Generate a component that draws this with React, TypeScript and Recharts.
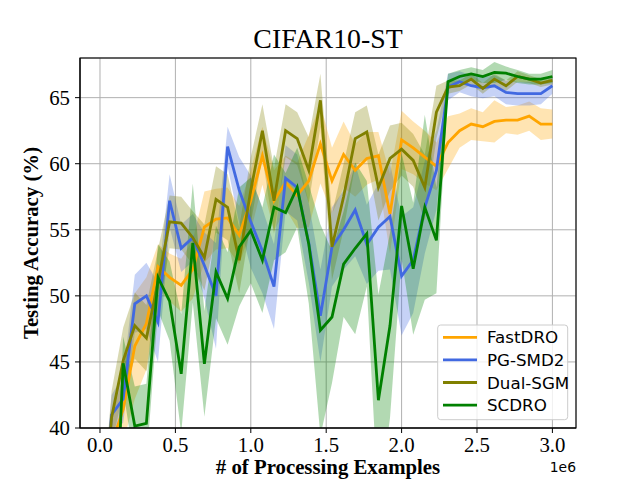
import React from 'react';
import { ComposedChart, Line, Area, XAxis, YAxis, CartesianGrid } from 'recharts';

// Processed examples (x positions of the evaluation points)
const xValues = [
  0, 76923, 153846, 230769, 307692, 384615, 461538, 538462, 615385, 692308,
  769231, 846154, 923077, 1000000, 1076923, 1153846, 1230769, 1307692, 1384615, 1461538,
  1538462, 1615385, 1692308, 1769231, 1846154, 1923077, 2000000, 2076923, 2153846, 2230769,
  2307692, 2384615, 2461538, 2538462, 2615385, 2692308, 2769231, 2846154, 2923077, 3000000,
];

const fastMean = [
  30, 38.8, 41.4, 46.2, 47.9, 52.2, 51.4, 50.8, 52.0, 55.2,
  55.8, 55.9, 54.6, 57.2, 60.6, 57.2, 58.6, 57.6, 58.7, 61.5,
  58.7, 60.7, 59.5, 60.4, 60.6, 56.2, 61.8, 61.2, 60.5, 59.8,
  61.6, 62.5, 63.0, 62.8, 63.2, 63.3, 63.3, 63.6, 63.0, 63.0,
];
const fastStd = [
  2, 2, 2.5, 4, 3.5, 1.7, 1.8, 2, 2.2, 2.7,
  2.3, 2.3, 2.2, 2.3, 2.2, 2.3, 2.0, 2.5, 3.5, 3.0,
  2.5, 2.5, 2.0, 2.0, 1.8, 3.0, 2.2, 2.0, 2.0, 1.8,
  2.0, 1.3, 1.2, 1.1, 1.6, 1.0, 1.1, 1.1, 1.2, 1.1,
];

const pgMean = [
  30, 41.0, 42.2, 49.4, 50.0, 48.0, 57.2, 53.6, 54.4, 52.3,
  50.0, 61.3, 58.0, 55.6, 53.4, 50.7, 58.9, 58.2, 54.0, 48.5,
  53.7, 55.0, 56.5, 53.9, 55.2, 56.0, 51.5, 52.7, 56.7, 59.5,
  65.8, 66.2, 65.9, 65.75, 65.9, 65.4, 65.3, 65.3, 65.3, 65.9,
];
const pgStd = [
  2, 1.5, 1.8, 2.2, 2.5, 3, 2, 1.8, 1.8, 2.5,
  4, 1.5, 2.5, 3.5, 3.2, 3.2, 2.5, 2.5, 3, 3.5,
  3, 3, 3.5, 3, 3.3, 4, 4.5, 4, 3.5, 3,
  1, 0.8, 0.8, 0.8, 0.8, 0.9, 0.9, 0.9, 0.8, 0.6,
];

const dualMean = [
  30, 40.8, 45.1, 47.75, 46.8, 51.0, 55.6, 55.5, 54.4, 52.9,
  57.3, 56.7, 52.7, 58.0, 62.5, 57.2, 62.5, 61.9, 59.5, 64.8,
  53.7, 57.5, 61.9, 62.4, 58.2, 60.4, 61.1, 60.25, 58.2, 63.9,
  65.8, 65.9, 66.4, 65.7, 66.4, 65.9, 66.6, 66.4, 66.1, 66.3,
];
const dualStd = [
  2, 2, 2.5, 2.5, 2.5, 2.5, 2, 2, 2, 2.5,
  2.5, 2.5, 2.5, 2.5, 2, 2.5, 2, 2, 2.5, 2,
  2.5, 2.5, 2, 2, 2.5, 2.5, 2, 2, 2.5, 2,
  0.5, 0.4, 0.4, 0.4, 0.4, 0.4, 0.4, 0.3, 0.3, 0.3,
];

const scdroMean = [
  15, 25, 44.9, 40.15, 40.35, 51.4, 49.6, 44.1, 54.0, 44.85,
  51.8, 49.8, 53.7, 54.95, 52.7, 56.7, 56.3, 58.2, 53.9, 47.4,
  48.4, 52.4, 53.6, 54.7, 42.1, 47.75, 56.8, 52.05, 56.7, 54.2,
  66.2, 66.6, 66.8, 66.6, 66.9, 66.85, 66.6, 66.4, 66.4, 66.6,
];
const scdroStd = [
  2, 3, 2, 3, 3, 2.5, 3, 4.5, 4.5, 4,
  3.5, 3.5, 4.5, 4, 4, 4, 3, 3, 4.5, 8,
  5, 4, 6.5, 4, 8, 7, 4, 5, 7, 4,
  0.6, 0.5, 0.5, 0.5, 0.8, 0.5, 0.5, 0.4, 0.4, 0.5,
];

const xTicks = [0, 500000, 1000000, 1500000, 2000000, 2500000, 3000000];
const yTicks = [40, 45, 50, 55, 60, 65];
const legendNames = ['FastDRO', 'PG-SMD2', 'Dual-SGM', 'SCDRO'];
const colors = ['#ffa500', '#4169e1', '#808000', '#008000'];

const data = xValues.map((x, i) => ({
  x,
  fast: fastMean[i],
  fastBand: [fastMean[i] - fastStd[i], fastMean[i] + fastStd[i]],
  pg: pgMean[i],
  pgBand: [pgMean[i] - pgStd[i], pgMean[i] + pgStd[i]],
  dual: dualMean[i],
  dualBand: [dualMean[i] - dualStd[i], dualMean[i] + dualStd[i]],
  scdro: scdroMean[i],
  scdroBand: [scdroMean[i] - scdroStd[i], scdroMean[i] + scdroStd[i]],
}));

const serif = '"Liberation Serif", "Times New Roman", serif';
const sans = '"DejaVu Sans", sans-serif';

export default function App() {
  const bandProps = { type: 'linear' as const, stroke: 'none', fillOpacity: 0.3, isAnimationActive: false, dot: false, activeDot: false };
  const lineProps = { type: 'linear' as const, strokeWidth: 2.8, isAnimationActive: false, dot: false, activeDot: false };
  return (
    <div style={{ position: 'absolute', left: 0, top: 0, width: 640, height: 480, background: '#fff' }}>
      <ComposedChart width={640} height={480} data={data} margin={{ top: 58, right: 64, left: 0, bottom: 0 }}>
        <CartesianGrid stroke="#b0b0b0" strokeWidth={1} />
        <XAxis
          dataKey="x"
          type="number"
          domain={[-132600, 3156500]}
          allowDataOverflow
          ticks={xTicks}
          tickFormatter={(v: number) => (v / 1e6).toFixed(1)}
          height={52}
          tickSize={5}
          tickMargin={4}
          stroke="#000"
          tick={{ fill: '#000', fontSize: 20.8, fontFamily: serif }}
        />
        <YAxis
          type="number"
          domain={[40, 68]}
          allowDataOverflow
          ticks={yTicks}
          width={80}
          tickSize={5}
          tickMargin={5}
          stroke="#000"
          tick={{ fill: '#000', fontSize: 20.8, fontFamily: serif }}
        />
        <Area dataKey="fastBand" fill={colors[0]} {...bandProps} />
        <Line dataKey="fast" stroke={colors[0]} {...lineProps} />
        <Area dataKey="pgBand" fill={colors[1]} {...bandProps} />
        <Line dataKey="pg" stroke={colors[1]} {...lineProps} />
        <Area dataKey="dualBand" fill={colors[2]} {...bandProps} />
        <Line dataKey="dual" stroke={colors[2]} {...lineProps} />
        <Area dataKey="scdroBand" fill={colors[3]} {...bandProps} />
        <Line dataKey="scdro" stroke={colors[3]} {...lineProps} />
      </ComposedChart>
      <svg width={640} height={480} style={{ position: 'absolute', left: 0, top: 0, pointerEvents: 'none' }}>
        <rect x={80} y={58} width={496} height={370} fill="none" stroke="#000" strokeWidth={1.1} />
        <text x={328} y={48.3} textAnchor="middle" fontFamily={serif} fontSize={27.8} fill="#000">CIFAR10-ST</text>
        <text transform="translate(38,243) rotate(-90)" textAnchor="middle" fontFamily={serif} fontWeight="bold" fontSize={20.8} fill="#000">Testing Accuracy (%)</text>
        <text x={328} y={474} textAnchor="middle" fontFamily={serif} fontWeight="bold" fontSize={20.8} fill="#000"># of Processing Examples</text>
        <text x={576} y={471.5} textAnchor="end" fontFamily={sans} fontSize={13.9} fill="#000">1e6</text>
        <rect x={437.7} y={325} width={130} height={94.7} rx={3} fill="#fff" fillOpacity={0.8} stroke="#cccccc" strokeWidth={1} />
        {legendNames.map((name, i) => (
          <g key={name}>
            <line x1={443} x2={477} y1={337.3 + i * 22.6} y2={337.3 + i * 22.6} stroke={colors[i]} strokeWidth={2.8} />
            <text x={487} y={343.3 + i * 22.6} fontFamily={sans} fontSize={16.7} fill="#000">{name}</text>
          </g>
        ))}
      </svg>
    </div>
  );
}
